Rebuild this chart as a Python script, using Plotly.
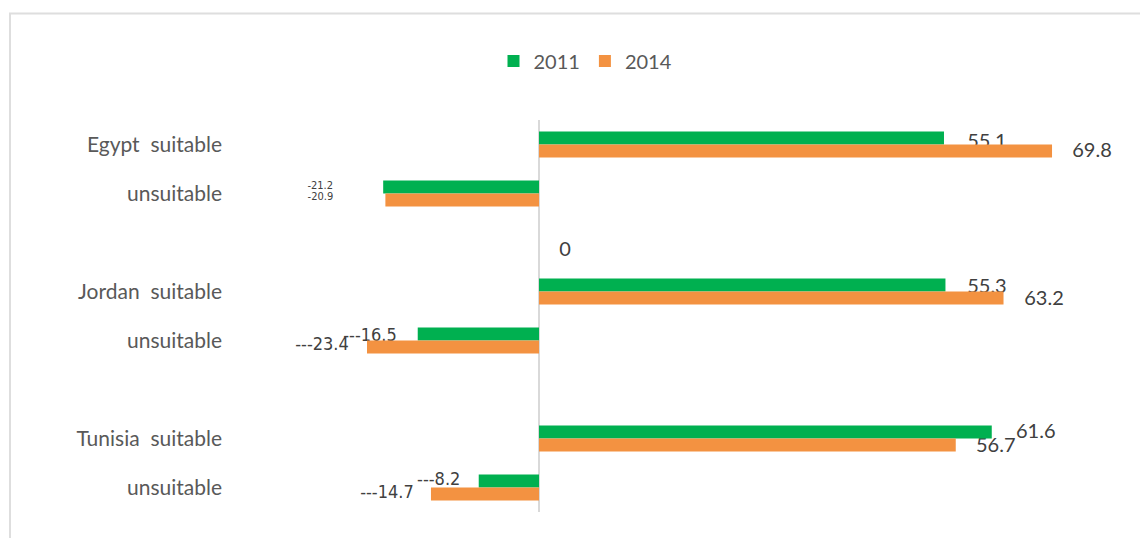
import plotly.graph_objects as go

# ---- data ----
categories = ["Egypt  suitable", "unsuitable", "", "Jordan  suitable", "unsuitable", "", "Tunisia  suitable", "unsuitable"]
years = ["2011", "2014"]
values_2011 = [55.1, -21.2, None, 55.3, -16.5, None, 61.6, -8.2]
values_2014 = [69.8, -20.9, 0, 63.2, -23.4, None, 56.7, -14.7]
labels_2011 = ["55.1", "-21.2", "", "55.3", "---16.5", "", "61.6", "---8.2"]
labels_2014 = ["69.8", "-20.9", "0", "63.2", "---23.4", "", "56.7", "---14.7"]

# ---- style / layout (page pixel targets; page body has an 8px margin) ----
OFF = 8
PAGE_W, PAGE_H = 1148, 538
W, H = PAGE_W - OFF, PAGE_H - OFF
PLOT_L, PLOT_R, PLOT_T, PLOT_B = 233, 1100, 120, 512   # page px
ML, MR, MT, MB = PLOT_L - OFF, W - (PLOT_R - OFF), PLOT_T - OFF, H - (PLOT_B - OFF)
PW, PH = PLOT_R - PLOT_L, PLOT_B - PLOT_T
ZERO_PX = 539
PX_PER_UNIT = 7.35
XMIN = (PLOT_L - ZERO_PX) / PX_PER_UNIT
XMAX = (PLOT_R - ZERO_PX) / PX_PER_UNIT
N = len(categories)
CAT_PX = PH / N
BARGAP = 0.47
HALF = (1 - BARGAP) / 4  # offset of each bar centre from category centre

# label nudges in px (dx, dy) relative to bar end / bar centre
nudge_2011 = [(43, 5), (-63, -1), (0, 0), (41.5, 3), (-47.7, 2), (0, 0), (44, 1), (-40, -1)]
nudge_2014 = [(40, 1.5), (-65, -3), (26, 2), (40.5, 2), (-45, -1), (0, 0), (40, 2), (-44, 0)]

GREEN = "#00B050"
ORANGE = "#F39241"
NARROW = "Liberation Sans Narrow, Arial Narrow, DejaVu Sans Condensed, sans-serif"
REG = "Lato, Open Sans, sans-serif"

fig = go.Figure()


def label_trace(vals, labels, nudges, sign):
    xs, ys, txt, fam, size = [], [], [], [], []
    for i, (v, lab, (dx, dy)) in enumerate(zip(vals, labels, nudges)):
        if v is None or lab == "":
            continue
        xs.append(v + dx / PX_PER_UNIT)
        ys.append(i + sign * HALF + dy / CAT_PX)
        txt.append(lab)
        if lab.startswith("---"):
            fam.append(NARROW); size.append(18)
        elif lab.startswith("-"):
            fam.append(NARROW); size.append(11)
        else:
            fam.append(REG); size.append(20)
    return go.Scatter(x=xs, y=ys, text=txt, mode="text", textposition="middle center",
                      textfont=dict(family=fam, size=size, color="#404040"), cliponaxis=False,
                      showlegend=False, hoverinfo="skip", xaxis="x", yaxis="y")


# labels on the base subplot (drawn beneath the bars, like the original)
fig.add_trace(label_trace(values_2011, labels_2011, nudge_2011, -1))
fig.add_trace(label_trace(values_2014, labels_2014, nudge_2014, +1))

# bars on the overlaid subplot
idx = list(range(N))
fig.add_trace(go.Bar(x=values_2011, y=idx, orientation="h", name=years[0],
                     marker=dict(color=GREEN, line=dict(width=0)), xaxis="x", yaxis="y2"))
fig.add_trace(go.Bar(x=values_2014, y=idx, orientation="h", name=years[1],
                     marker=dict(color=ORANGE, line=dict(width=0)), xaxis="x", yaxis="y2"))


def paper_x(px):
    return (px - PLOT_L) / PW


def paper_y(py):
    return (PLOT_B - py) / PH


frame = dict(type="path", xref="paper", yref="paper",
             path=f"M {paper_x(10)},{paper_y(560)} L {paper_x(10)},{paper_y(13.5)} L {paper_x(1147)},{paper_y(13.5)}",
             line=dict(color="#dedede", width=2), layer="below")

fig.update_layout(
    width=W, height=H,
    margin=dict(l=ML, r=MR, t=MT, b=MB, pad=0),
    paper_bgcolor="white", plot_bgcolor="white",
    font=dict(family=REG, color="#595959", size=20),
    barmode="group", bargap=BARGAP, bargroupgap=0,
    xaxis=dict(range=[XMIN, XMAX], showticklabels=False, showgrid=False, ticks="",
               zeroline=True, zerolinecolor="#d9d9d9", zerolinewidth=1.5, showline=False),
    yaxis=dict(range=[N - 0.5, -0.5], tickmode="array", tickvals=idx, ticktext=categories,
               showgrid=False, zeroline=False, showline=False, ticks="", ticklabelstandoff=10,
               tickfont=dict(family=REG, size=21, color="#595959")),
    yaxis2=dict(range=[N - 0.5, -0.5], overlaying="y", visible=False),
    legend=dict(orientation="h", x=paper_x(585.5), xanchor="center", y=paper_y(61), yanchor="middle",
                font=dict(family=REG, size=20, color="#595959"), bgcolor="rgba(0,0,0,0)"),
    shapes=[frame],
)

fig.write_html("out.html")
